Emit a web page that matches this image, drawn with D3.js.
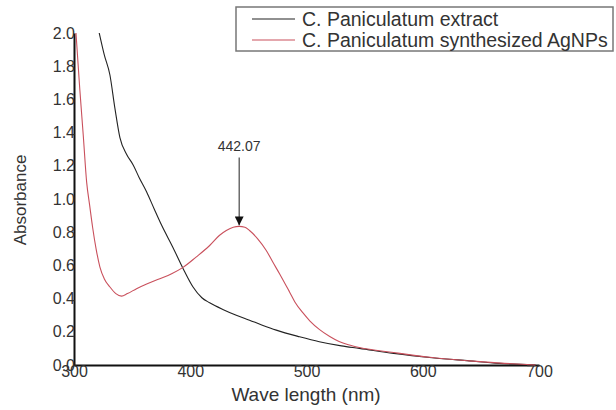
<!DOCTYPE html>
<html>
<head>
<meta charset="utf-8">
<script src="https://cdn.jsdelivr.net/npm/d3@7"></script>
<style>
	body { margin: 0; background: #fff; }
	svg { display: block; font-family: Arial, "Liberation Sans", sans-serif; }
</style>
</head>
<body>
<svg id="svg" width="616" height="410"></svg>
<script>
// wavelength (nm) / absorbance
var extractWl = [321.7, 326, 330.9, 335.2, 339.5, 345.2, 350.9, 356, 362.4, 369, 375.3, 385, 393.8, 402.4, 410, 416.7, 428, 439.6, 451, 462, 474, 494, 511, 530, 545.5, 575, 608, 640, 665.7, 697]
var extractAbs = [2.0, 1.87, 1.747, 1.546, 1.37, 1.27, 1.205, 1.13, 1.044, 0.94, 0.843, 0.71, 0.582, 0.47, 0.405, 0.375, 0.335, 0.30, 0.27, 0.24, 0.21, 0.17, 0.14, 0.115, 0.10, 0.07, 0.044, 0.025, 0.01, 0.0]

var agnpWl = [301.7, 305, 308, 310.9, 313.5, 316, 319, 322.3, 326, 330.9, 336, 340.9, 346, 353.8, 363, 373.8, 384, 393.8, 405, 416.7, 425, 431, 437, 442, 447, 451, 458, 465.4, 471, 476.8, 485.4, 490, 496.8, 503, 511, 520, 528, 536, 545.5, 575, 608, 640, 670, 697]
var agnpAbs = [2.0, 1.66, 1.38, 1.1, 0.96, 0.83, 0.7, 0.59, 0.52, 0.47, 0.43, 0.415, 0.43, 0.46, 0.49, 0.52, 0.55, 0.588, 0.65, 0.72, 0.78, 0.81, 0.83, 0.835, 0.83, 0.81, 0.76, 0.69, 0.62, 0.55, 0.44, 0.38, 0.315, 0.265, 0.215, 0.172, 0.142, 0.122, 0.105, 0.075, 0.045, 0.025, 0.01, 0.0]

var xTicks = [300, 400, 500, 600, 700]
var yTicks = [0, 0.2, 0.4, 0.6, 0.8, 1.0, 1.2, 1.4, 1.6, 1.8, 2.0]
var seriesNames = ["C. Paniculatum extract", "C. Paniculatum synthesized AgNPs"]
var seriesColors = ["#222222", "#c9505c"]
var peakLabel = "442.07"
var peakWl = 442.07, peakAbs = 0.835, arrowTopAbs = 1.25

var svg = d3.select("#svg")

var x = d3.scaleLinear().domain([300, 700]).range([74, 539])
var y = d3.scaleLinear().domain([0, 2]).range([365, 33])

// axes - just the lines and labels, no tick marks
var xAxis = svg.append("g")
	.attr("transform", "translate(0," + y(0) + ")")
	.call(d3.axisBottom(x).tickValues(xTicks).tickSize(0).tickPadding(1).tickFormat(d3.format("d")))
xAxis.select(".domain").attr("stroke", "#111").attr("stroke-width", 2)
xAxis.selectAll("text").attr("font-size", 16).attr("fill", "#333").attr("font-family", null)

var yAxis = svg.append("g")
	.attr("transform", "translate(" + x(300) + ",0)")
	.call(d3.axisLeft(y).tickValues(yTicks).tickSize(0).tickPadding(-1).tickFormat(d3.format(".1f")))
yAxis.select(".domain").attr("stroke", "#111").attr("stroke-width", 2)
yAxis.selectAll("text").attr("font-size", 16).attr("fill", "#333").attr("font-family", null)

svg.append("text")
	.attr("x", 306).attr("y", 401)
	.attr("text-anchor", "middle")
	.attr("font-size", 19).attr("fill", "#333")
	.text("Wave length (nm)")

svg.append("text")
	.attr("transform", "translate(26,200) rotate(-90)")
	.attr("text-anchor", "middle")
	.attr("font-size", 17).attr("fill", "#333")
	.text("Absorbance")

// curves
var line = d3.line()
	.x(function (d) { return x(d[0]) })
	.y(function (d) { return y(d[1]) })
	.curve(d3.curveMonotoneX)

var series = [d3.zip(extractWl, extractAbs), d3.zip(agnpWl, agnpAbs)]
series.forEach(function (s, i) {
	svg.append("path")
		.datum(s)
		.attr("d", line)
		.attr("fill", "none")
		.attr("stroke", seriesColors[i])
		.attr("stroke-width", 1.1)
})

// peak annotation
svg.append("defs").append("marker")
	.attr("id", "arrow")
	.attr("viewBox", "0 0 10 10")
	.attr("refX", 10).attr("refY", 5)
	.attr("markerWidth", 9).attr("markerHeight", 9)
	.attr("markerUnits", "userSpaceOnUse")
	.attr("orient", "auto")
	.append("path")
	.attr("d", "M0,0 L10,5 L0,10 z")
	.attr("fill", "#111")

svg.append("line")
	.attr("x1", x(peakWl)).attr("x2", x(peakWl))
	.attr("y1", y(arrowTopAbs)).attr("y2", y(peakAbs) - 1)
	.attr("stroke", "#222").attr("stroke-width", 1)
	.attr("marker-end", "url(#arrow)")

svg.append("text")
	.attr("x", x(peakWl)).attr("y", y(arrowTopAbs) - 7)
	.attr("text-anchor", "middle")
	.attr("font-size", 14).attr("fill", "#333")
	.text(peakLabel)

// legend
var legend = svg.append("g")
legend.append("rect")
	.attr("x", 236).attr("y", 7)
	.attr("width", 377).attr("height", 44)
	.attr("fill", "#fff")
	.attr("stroke", "#777").attr("stroke-width", 1.5)

seriesNames.forEach(function (name, i) {
	var ly = 19 + i * 21
	legend.append("line")
		.attr("x1", 252).attr("x2", 295)
		.attr("y1", ly).attr("y2", ly)
		.attr("stroke", seriesColors[i]).attr("stroke-width", 1.1)
	legend.append("text")
		.attr("x", 302).attr("y", ly)
		.attr("dy", "0.36em")
		.attr("font-size", 19.5).attr("fill", "#333")
		.text(name)
})
</script>
</body>
</html>
